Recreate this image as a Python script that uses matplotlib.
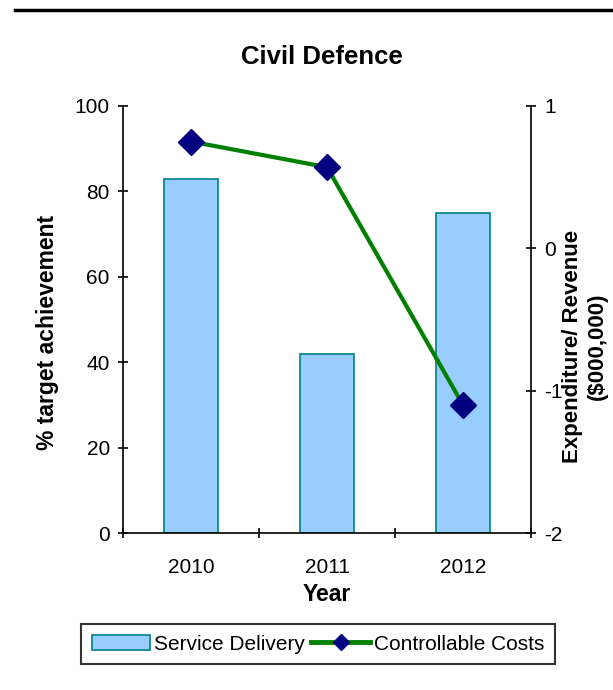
import matplotlib
matplotlib.use("Agg")
import matplotlib.pyplot as plt
from matplotlib.lines import Line2D
import numpy as np

plt.rcParams['font.family'] = ['Liberation Sans', 'DejaVu Sans']
plt.rcParams['axes.unicode_minus'] = False

years = ["2010", "2011", "2012"]
service_delivery = [83, 42, 75]
controllable_costs = [0.75, 0.57, -1.10]

fig = plt.figure(figsize=(6.13, 6.90), dpi=100)
ax = fig.add_axes([0.2007, 0.2275, 0.6655, 0.6189])
ax2 = ax.twinx()

x = np.arange(len(years))
bars = ax.bar(x, service_delivery, width=0.4, color='#99CCFF', edgecolor='#008080', linewidth=1.2,
              label='Service Delivery', zorder=2)
ax.set_xlim(-0.5, 2.5)
ax.set_ylim(0, 100)
ax.set_yticks([0, 20, 40, 60, 80, 100])
ax.set_xticks(x)
ax.set_xticklabels(years)
ax.set_xticks([-0.5, 0.5, 1.5, 2.5], minor=True)
ax.tick_params(axis='x', which='major', length=0, labelsize=15, pad=18)
ax.tick_params(axis='x', which='minor', length=7, direction='inout', width=1.2)
ax.tick_params(axis='y', length=7, direction='inout', width=1.2, labelsize=15, pad=6)
ax.spines['top'].set_visible(False)
ax.spines['right'].set_visible(False)
for s in ['left', 'bottom']:
    ax.spines[s].set_linewidth(1.2)

line, = ax2.plot(x, controllable_costs, color='#008000', linewidth=3, marker='D', markersize=13,
                 markerfacecolor='#000080', markeredgecolor='#000080', label='Controllable Costs', zorder=3)
ax2.set_ylim(-2, 1)
ax2.set_yticks([-2, -1, 0, 1])
ax2.tick_params(axis='y', length=7, direction='inout', width=1.2, labelsize=15, pad=6)
for s in ['top', 'left', 'bottom']:
    ax2.spines[s].set_visible(False)
ax2.spines['right'].set_linewidth(1.2)

ax.set_ylabel('% target achievement', fontsize=16.5, fontweight='bold')
ax.yaxis.set_label_coords((47 - 123) / 408, (533 - 332) / 427)
ax.yaxis.label.set_va('center')
ax.yaxis.label.set_ha('center')
ax2.set_ylabel('Expenditure/ Revenue\n($000,000)', fontsize=16, fontweight='bold')
ax2.yaxis.set_label_coords((585 - 123) / 408, (533 - 346) / 427)
ax2.yaxis.label.set_va('center')
ax2.yaxis.label.set_ha('center')
ax.set_xlabel('Year', fontsize=16.5, fontweight='bold', labelpad=4)
fig.text(0.525, 1 - 57/690, 'Civil Defence', ha='center', va='center', fontsize=18.5, fontweight='bold')

# top rule
fig.add_artist(Line2D([15/613, 1.0], [1 - 10/690, 1 - 10/690], color='black', linewidth=2.5))

leg_line = Line2D([], [], color='#008000', linewidth=3.5, marker='D', markersize=8,
                  markerfacecolor='#000080', markeredgecolor='#000080')
leg = fig.legend([bars, leg_line], ['Service Delivery', 'Controllable Costs'], loc='center',
                 bbox_to_anchor=(318/613, 1 - 644/690), ncol=2, frameon=True, fancybox=False,
                 edgecolor='black', fontsize=15, handlelength=2.8, handletextpad=0.2, columnspacing=0.3,
                 borderpad=0.5, borderaxespad=0)
leg.get_frame().set_linewidth(1.5)

fig.savefig('out.png', dpi=100)
